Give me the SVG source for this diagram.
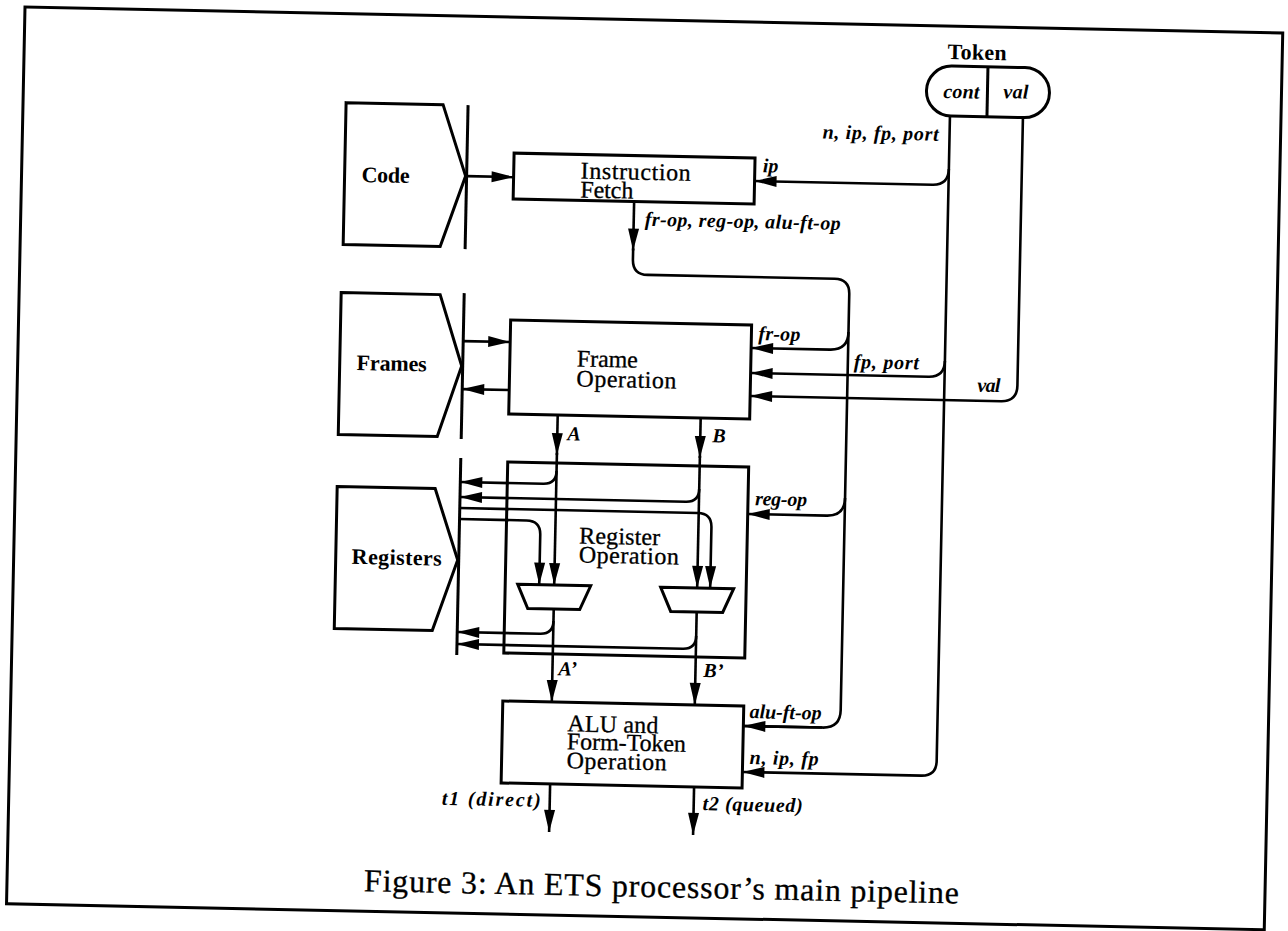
<svg xmlns="http://www.w3.org/2000/svg" width="1288" height="931" viewBox="0 0 1288 931">
<defs>
<marker id="ah" markerUnits="userSpaceOnUse" markerWidth="24" markerHeight="14" refX="22" refY="6" orient="auto" overflow="visible"><path d="M0,0.5 L22,6 L0,11.5 Z" fill="#000"/></marker>
</defs>
<style>
.box{fill:none;stroke:#000;stroke-width:3}
.ln{fill:none;stroke:#000;stroke-width:2.6}
.ar{fill:none;stroke:#000;stroke-width:2.6;marker-end:url(#ah)}
.t{font-family:"Liberation Serif","Times New Roman",serif;font-size:24px;fill:#000;stroke:#000;stroke-width:0.3}
.b{font-family:"Liberation Serif","Times New Roman",serif;font-size:22px;font-weight:bold;fill:#000}
.s{font-family:"Liberation Serif","Times New Roman",serif;font-size:20px;font-weight:bold;font-style:italic;fill:#000}
.cap{font-family:"Liberation Serif","Times New Roman",serif;font-size:32px;fill:#000;stroke:#000;stroke-width:0.3}
</style>
<rect width="1288" height="931" fill="#fff"/>
<g transform="rotate(1.18 25 7)">
<rect id="border" x="25" y="7" width="1258" height="897" class="box"/>

<g id="code">
<polygon points="348,96 445,96 469,167 445,238 348,238" class="box"/>
<line x1="470" y1="96" x2="470" y2="240" class="box"/>
<text x="365" y="175" class="b" textLength="48">Code</text>
</g>

<g id="frames">
<polygon points="347,286 446,286 469,357 446,428 347,428" class="box"/>
<line x1="470" y1="284" x2="470" y2="430" class="box"/>
<text x="364" y="363" class="b" textLength="70">Frames</text>
</g>

<g id="registers">
<polygon points="347,480 445,480 469,551 445,622 347,622" class="box"/>
<line x1="470" y1="449" x2="470" y2="646" class="box"/>
<text x="363" y="557" class="b" textLength="90">Registers</text>
</g>

<g id="token">
<text x="978" y="40" class="b" text-anchor="middle" textLength="59">Token</text>
<rect x="928" y="47" width="123" height="50" rx="25" class="box"/>
<line x1="989" y1="47" x2="989" y2="97" class="box"/>
<text x="945" y="79" class="s" textLength="36">cont</text>
<text x="1005" y="78" class="s" textLength="25">val</text>
</g>

<g id="instruction-fetch">
<rect x="517" y="143" width="241" height="46" class="box"/>
<text x="584" y="167" class="t" textLength="110">Instruction</text>
<text x="584" y="186" class="t" textLength="53">Fetch</text>
</g>

<g id="frame-operation">
<rect x="517" y="310" width="241" height="94" class="box"/>
<text x="584" y="355" class="t" textLength="61">Frame</text>
<text x="584" y="375" class="t" textLength="100">Operation</text>
</g>

<g id="register-operation">
<rect x="517" y="452" width="241" height="191" class="box"/>
<text x="590" y="532" class="t" textLength="81">Register</text>
<text x="590" y="551" class="t" textLength="100">Operation</text>
</g>

<g id="mux-left">
<polygon points="529.5,574 602.5,574 592,598 540,598" class="box"/>
</g>
<g id="mux-right">
<polygon points="672.5,574 745.5,574 735,598 683,598" class="box"/>
</g>

<g id="alu">
<rect x="517" y="691" width="241" height="82" class="box"/>
<text x="582" y="720" class="t" textLength="91">ALU and</text>
<text x="582" y="738" class="t" textLength="119">Form-Token</text>
<text x="582" y="757" class="t" textLength="100">Operation</text>
</g>

<g id="connectors">
<path d="M470,167 H517" class="ar"/>
<path d="M952,97 V742 Q952,757 937,757 H758" class="ar"/>
<path d="M952,150 Q952,166 936,166 H758" class="ar"/>
<path d="M952,342 Q952,358 936,358 H758" class="ar"/>
<path d="M1025,97 V365 Q1025,381 1009,381 H758" class="ar"/>
<path d="M638,189 V238" class="ar"/>
<path d="M638,236 V247 Q638,262 653,262 H840 Q855,262 855,277 V693 Q855,711 837,711 H758" class="ln"/>
<path d="M837,711 H758" class="ar"/>
<path d="M855,315 Q855,333 837,333 H758" class="ar"/>
<path d="M855,481 Q855,499 837,499 H758" class="ar"/>
<path d="M470,332 H517" class="ar"/>
<path d="M517,380 H470" class="ar"/>
<path d="M566,404 V444" class="ar"/>
<path d="M566,442 V574" class="ar"/>
<path d="M709,404 V444" class="ar"/>
<path d="M709,442 V574" class="ar"/>
<path d="M566,460 Q566,473 553,473 H470" class="ar"/>
<path d="M709,475 Q709,488 696,488 H470" class="ar"/>
<path d="M470,499 H708 Q722,499 722,513 V574" class="ar"/>
<path d="M470,510 H537 Q551,510 551,524 V574" class="ar"/>
<path d="M566,598 V691" class="ar"/>
<path d="M566,610 Q566,623 553,623 H470" class="ar"/>
<path d="M709,598 V691" class="ar"/>
<path d="M709,622 Q709,635 696,635 H470" class="ar"/>
<path d="M566,773 V821" class="ar"/>
<path d="M710,773 V821" class="ar"/>
</g>

<g id="labels">
<text x="825" y="122" class="s" textLength="116">n, ip, fp, port</text>
<text x="766" y="157" class="s">ip</text>
<text x="649" y="213" class="s" textLength="196">fr-op, reg-op, alu-ft-op</text>
<text x="765" y="325" class="s" textLength="42">fr-op</text>
<text x="861" y="351" class="s" textLength="65">fp, port</text>
<text x="985" y="372" class="s" textLength="23">val</text>
<text x="576" y="429" class="s">A</text>
<text x="721" y="428" class="s">B</text>
<text x="765" y="490" class="s" textLength="52">reg-op</text>
<text x="572" y="664" class="s">A’</text>
<text x="717" y="663" class="s">B’</text>
<text x="764" y="703" class="s" textLength="72">alu-ft-op</text>
<text x="765" y="749" class="s" textLength="69">n, ip, fp</text>
<text x="458" y="796" class="s" textLength="99">t1 (direct)</text>
<text x="719" y="796" class="s" textLength="100">t2 (queued)</text>
</g>

<text id="caption" x="382" y="884" class="cap" textLength="595">Figure 3: An ETS processor’s main pipeline</text>
</g>
</svg>
